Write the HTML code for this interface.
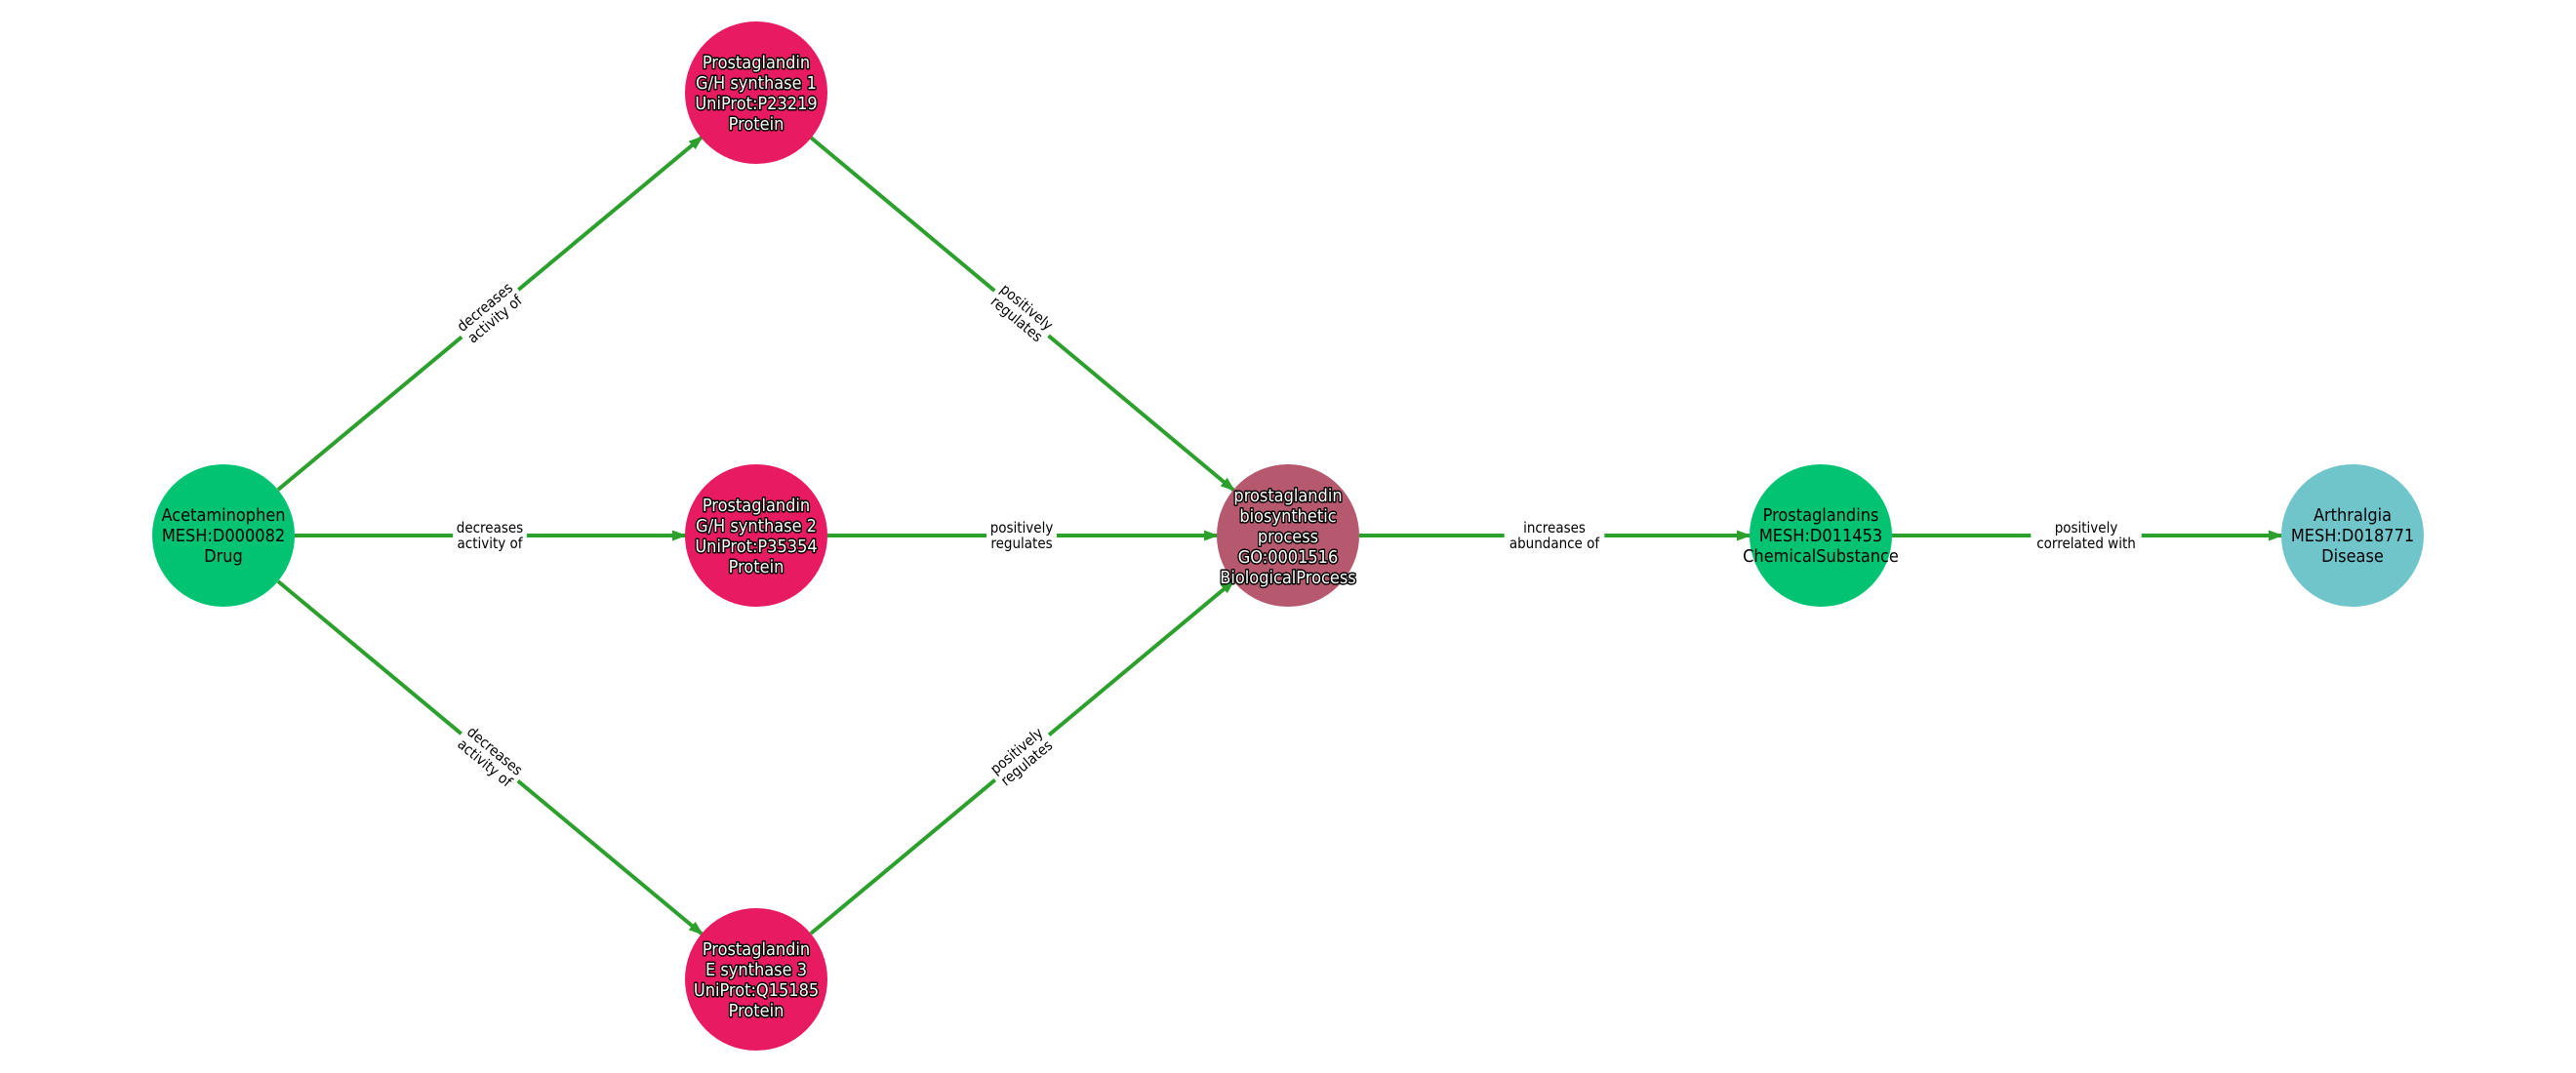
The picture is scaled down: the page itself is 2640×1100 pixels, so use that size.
<!DOCTYPE html>
<html><head><meta charset="utf-8"><style>
html,body{margin:0;padding:0;background:#fff;}
svg{display:block;}
.nt{font-family:"DejaVu Sans","Liberation Sans",sans-serif;font-size:18px;text-anchor:middle;}
.halo{fill:#fff;stroke:#000;stroke-width:3px;paint-order:stroke;stroke-linejoin:round;}
.el{font-family:"DejaVu Sans","Liberation Sans",sans-serif;font-size:15px;text-anchor:middle;fill:#000;}
.e{stroke:#2ca02c;stroke-width:4;fill:none;}
</style></head><body>
<svg width="2640" height="1100" viewBox="0 0 2640 1100" xmlns="http://www.w3.org/2000/svg">
<defs>
<marker id="ar" markerWidth="15" markerHeight="12" refX="14" refY="6" orient="auto" markerUnits="userSpaceOnUse">
<path d="M0,0.5 L15,6 L0,11.5 z" fill="#2ca02c"/>
</marker>
</defs>
<line class="e" x1="285" y1="502" x2="720" y2="140" marker-end="url(#ar)"/>
<line class="e" x1="302" y1="549" x2="703" y2="549" marker-end="url(#ar)"/>
<line class="e" x1="285" y1="596" x2="720" y2="958" marker-end="url(#ar)"/>
<line class="e" x1="831" y1="141" x2="1265" y2="503" marker-end="url(#ar)"/>
<line class="e" x1="848" y1="549" x2="1248" y2="549" marker-end="url(#ar)"/>
<line class="e" x1="831" y1="957" x2="1265" y2="595" marker-end="url(#ar)"/>
<line class="e" x1="1393" y1="549" x2="1794" y2="549" marker-end="url(#ar)"/>
<line class="e" x1="1939" y1="549" x2="2339" y2="549" marker-end="url(#ar)"/>
<g transform="translate(502,321) rotate(-39.8) scale(0.9,1)"><rect x="-42" y="-18" width="84" height="36" fill="#fff"/><text class="el" y="-3">decreases</text><text class="el" y="13">activity of</text></g>
<g transform="translate(502,549) scale(0.9,1)"><rect x="-42" y="-18" width="84" height="36" fill="#fff"/><text class="el" y="-3">decreases</text><text class="el" y="13">activity of</text></g>
<g transform="translate(502,776) rotate(39.8) scale(0.9,1)"><rect x="-42" y="-18" width="84" height="36" fill="#fff"/><text class="el" y="-3">decreases</text><text class="el" y="13">activity of</text></g>
<g transform="translate(1047,321) rotate(39.8) scale(0.9,1)"><rect x="-40" y="-18" width="80" height="36" fill="#fff"/><text class="el" y="-3">positively</text><text class="el" y="13">regulates</text></g>
<g transform="translate(1047,549) scale(0.9,1)"><rect x="-40" y="-18" width="80" height="36" fill="#fff"/><text class="el" y="-3">positively</text><text class="el" y="13">regulates</text></g>
<g transform="translate(1047,776) rotate(-39.8) scale(0.9,1)"><rect x="-40" y="-18" width="80" height="36" fill="#fff"/><text class="el" y="-3">positively</text><text class="el" y="13">regulates</text></g>
<g transform="translate(1593,549) scale(0.9,1)"><rect x="-57" y="-18" width="114" height="36" fill="#fff"/><text class="el" y="-3">increases</text><text class="el" y="13">abundance of</text></g>
<g transform="translate(2138,549) scale(0.9,1)"><rect x="-63" y="-18" width="126" height="36" fill="#fff"/><text class="el" y="-3">positively</text><text class="el" y="13">correlated with</text></g>

<circle cx="229" cy="549" r="73" fill="#02c372"/>
<g transform="translate(229,0) scale(0.9,1)"><text class="nt" y="534">Acetaminophen</text><text class="nt" y="555">MESH:D000082</text><text class="nt" y="576">Drug</text></g>

<circle cx="775" cy="95" r="73" fill="#e81a61"/>
<g transform="translate(775,0) scale(0.9,1)"><text class="nt halo" y="70">Prostaglandin</text><text class="nt halo" y="91">G/H synthase 1</text><text class="nt halo" y="112">UniProt:P23219</text><text class="nt halo" y="133">Protein</text></g>

<circle cx="775" cy="549" r="73" fill="#e81a61"/>
<g transform="translate(775,0) scale(0.9,1)"><text class="nt halo" y="524">Prostaglandin</text><text class="nt halo" y="545">G/H synthase 2</text><text class="nt halo" y="566">UniProt:P35354</text><text class="nt halo" y="587">Protein</text></g>

<circle cx="775" cy="1004" r="73" fill="#e81a61"/>
<g transform="translate(775,0) scale(0.9,1)"><text class="nt halo" y="979">Prostaglandin</text><text class="nt halo" y="1000">E synthase 3</text><text class="nt halo" y="1021">UniProt:Q15185</text><text class="nt halo" y="1042">Protein</text></g>

<circle cx="1320" cy="549" r="73" fill="#b6596f"/>
<g transform="translate(1320,0) scale(0.9,1)"><text class="nt halo" y="514">prostaglandin</text><text class="nt halo" y="535">biosynthetic</text><text class="nt halo" y="556">process</text><text class="nt halo" y="577">GO:0001516</text><text class="nt halo" y="598">BiologicalProcess</text></g>

<circle cx="1866" cy="549" r="73" fill="#02c372"/>
<g transform="translate(1866,0) scale(0.9,1)"><text class="nt" y="534">Prostaglandins</text><text class="nt" y="555">MESH:D011453</text><text class="nt" y="576">ChemicalSubstance</text></g>

<circle cx="2411" cy="549" r="73" fill="#70c5cb"/>
<g transform="translate(2411,0) scale(0.9,1)"><text class="nt" y="534">Arthralgia</text><text class="nt" y="555">MESH:D018771</text><text class="nt" y="576">Disease</text></g>
</svg>
</body></html>
